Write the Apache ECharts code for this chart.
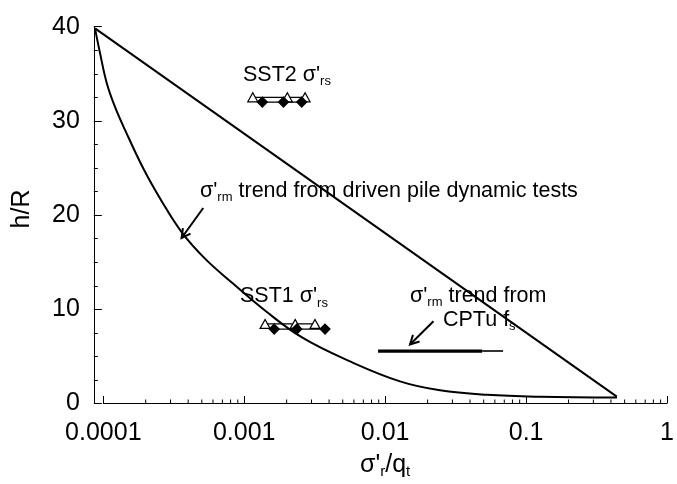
<!DOCTYPE html>
<html><head><meta charset="utf-8">
<script src="https://cdn.jsdelivr.net/npm/echarts@6/dist/echarts.min.js"></script>
<style>html,body{margin:0;padding:0;background:#fff}#c{width:677px;height:484px}</style>
</head><body><div id="c"></div>
<script>
// ---- data ----
const xTickLabels = ['0.0001', '0.001', '0.01', '0.1', '1'];
const yTickLabels = ['0', '10', '20', '30', '40'];

// sigma'_rm trend from driven pile dynamic tests (curve)
const drivenX = [8.74e-5, 9.48e-5, 1.057e-4, 1.209e-4, 1.422e-4, 1.935e-4, 2.592e-4, 3.585e-4, 5.206e-4,
                 8.201e-4, 1.378e-3, 2.513e-3, 5.473e-3, 1.232e-2, 2.357e-2, 5.052e-2, 0.1194, 0.4164];
const drivenH = [39.82, 37.20, 34.03, 31.48, 29.05, 24.81, 21.42, 18.14, 15.38,
                 12.73, 9.87, 7.01, 4.47, 2.35, 1.40, 0.92, 0.71, 0.625];

// upper straight bound
const upperX = [8.74e-5, 0.415];
const upperH = [39.82, 0.73];

// sigma'_rm trend from CPTu f_s
const cptuX = [8.63e-3, 0.0467];
const cptuH = [5.56, 5.56];
const cptuTailX = [0.0467, 0.0656];
const cptuTailH = [5.56, 5.56];

// SST2 and SST1 sigma'_rs
const sst2TriX = [1.13e-3, 1.98e-3, 2.64e-3];
const sst2TriH = [32.5, 32.5, 32.5];
const sst2DiaX = [1.32e-3, 1.86e-3, 2.50e-3];
const sst2DiaH = [32.0, 32.0, 32.0];
const sst1TriX = [1.38e-3, 2.25e-3, 3.10e-3];
const sst1TriH = [8.45, 8.45, 8.45];
const sst1DiaX = [1.60e-3, 2.31e-3, 3.65e-3];
const sst1DiaH = [7.9, 7.9, 7.9];

// annotation arrows (tail -> tip), data coordinates
const arrowTailX = [5.06e-4, 0.0212];
const arrowTailH = [20.75, 8.74];
const arrowTipX = [3.56e-4, 0.01449];
const arrowTipH = [17.57, 6.27];

// ---- layout ----
const FONT = 'Liberation Sans, Arial, sans-serif';
const black = '#000';
const W = 677;
const axisLeft = 103.3, axisRight = 671, plotTop = 26.7, plotBottom = 403.5;
const yAxisLineX = 93.8;
const decadePx = (axisRight - axisLeft) / 4;
// the data grid is widened to the y-axis line so the curves can start left of 1e-4 as in the reference
const dataAxisMin = Math.pow(10, -4 - (axisLeft - yAxisLineX) / decadePx);

const chart = echarts.init(document.getElementById('c'), null, {renderer: 'canvas'});
const pairs = (xs, ys) => xs.map((x, i) => [x, ys[i]]);

function markerSeries(xs, ys, symbol, size, fill) {
  return {
    type: 'line', xAxisIndex: 0, yAxisIndex: 0, data: pairs(xs, ys), symbol: symbol, symbolSize: size,
    showAllSymbol: true,
    itemStyle: {color: fill, borderColor: black, borderWidth: 1.2},
    lineStyle: {color: black, width: 1.3}, z: 3
  };
}

const gridBox = (left) => ({left: left, right: W - axisRight, top: plotTop, bottom: 484 - plotBottom, containLabel: false});

const option = {
  animation: false,
  backgroundColor: '#fff',
  grid: [gridBox(yAxisLineX), gridBox(axisLeft)],
  xAxis: [
    {type: 'log', logBase: 10, gridIndex: 0, min: dataAxisMin, max: 1, show: false},
    {
      type: 'log', logBase: 10, gridIndex: 1, min: 1e-4, max: 1,
      axisLine: {onZero: false, lineStyle: {color: black, width: 1}},
      axisTick: {inside: true, length: 7, lineStyle: {color: black, width: 1}},
      axisLabel: {color: black, fontSize: 25, fontFamily: FONT, margin: 18,
        formatter: (v, i) => xTickLabels[i]},
      splitLine: {show: false},
      name: "{a|σ'}{s|r}{a|/q}{s|t}",
      nameLocation: 'middle', nameGap: 48,
      nameTextStyle: {color: black, fontFamily: FONT,
        rich: {a: {fontSize: 25, lineHeight: 28, fontFamily: FONT, color: black},
               s: {fontSize: 15, lineHeight: 16, verticalAlign: 'bottom', fontFamily: FONT, color: black}}}
    }
  ],
  yAxis: [
    {
      type: 'value', gridIndex: 0, min: 0, max: 40, interval: 10,
      axisLine: {show: true, onZero: false, lineStyle: {color: black, width: 1}},
      axisTick: {show: true, inside: true, length: 8, lineStyle: {color: black, width: 1}},
      minorTick: {show: true, splitNumber: 4, length: 4, lineStyle: {color: black, width: 1}},
      axisLabel: {color: black, fontSize: 25, fontFamily: FONT, margin: 14, padding: [0, 0, 4, 0],
        formatter: (v, i) => yTickLabels[i]},
      splitLine: {show: false}
    },
    {type: 'value', gridIndex: 1, min: 0, max: 40, show: false}
  ],
  series: [
    {type: 'line', xAxisIndex: 0, yAxisIndex: 0, data: pairs(drivenX, drivenH), smooth: 0.4,
     symbol: 'none', lineStyle: {color: black, width: 2}},
    {type: 'line', xAxisIndex: 0, yAxisIndex: 0, data: pairs(upperX, upperH), symbol: 'none',
     lineStyle: {color: black, width: 2}},
    {type: 'line', xAxisIndex: 0, yAxisIndex: 0, data: pairs(cptuX, cptuH), symbol: 'none',
     lineStyle: {color: black, width: 3.3}},
    {type: 'line', xAxisIndex: 0, yAxisIndex: 0, data: pairs(cptuTailX, cptuTailH), symbol: 'none',
     lineStyle: {color: '#333', width: 2}},
    markerSeries(sst2TriX, sst2TriH, 'triangle', [10, 9], '#fff'),
    markerSeries(sst2DiaX, sst2DiaH, 'diamond', [10, 10], black),
    markerSeries(sst1TriX, sst1TriH, 'triangle', [10, 9], '#fff'),
    markerSeries(sst1DiaX, sst1DiaH, 'diamond', [10, 10], black)
  ]
};
chart.setOption(option);

// ---- annotations, minor ticks, arrows ----
const px = (x, y) => chart.convertToPixel({xAxisIndex: 0, yAxisIndex: 0}, [x, y]);
const graphics = [];
const axisY = chart.convertToPixel({yAxisIndex: 1}, 0);
for (let n = -4; n <= -1; n++) {
  for (let k = 2; k <= 9; k++) {
    const xp = chart.convertToPixel({xAxisIndex: 1}, k * Math.pow(10, n));
    graphics.push({type: 'line', shape: {x1: xp, y1: axisY, x2: xp, y2: axisY - 3.5},
      style: {stroke: black, lineWidth: 1}, silent: true});
  }
}
for (let i = 0; i < arrowTipX.length; i++) {
  const t = px(arrowTailX[i], arrowTailH[i]);
  const p = px(arrowTipX[i], arrowTipH[i]);
  let dx = t[0] - p[0], dy = t[1] - p[1];
  const L = Math.hypot(dx, dy); dx /= L; dy /= L;
  const arm = 10, ang = 28 * Math.PI / 180;
  const rot = (a) => [p[0] + arm * (dx * Math.cos(a) - dy * Math.sin(a)), p[1] + arm * (dx * Math.sin(a) + dy * Math.cos(a))];
  graphics.push({type: 'line', shape: {x1: t[0], y1: t[1], x2: p[0], y2: p[1]},
    style: {stroke: black, lineWidth: 2}, silent: true, z: 10});
  graphics.push({type: 'polyline', shape: {points: [rot(ang), p, rot(-ang)]},
    style: {stroke: black, lineWidth: 2, fill: null}, silent: true, z: 10});
}
const richAnn = {
  a: {fontSize: 21.5, lineHeight: 26, fontFamily: FONT, fill: black},
  s: {fontSize: 13, lineHeight: 9, verticalAlign: 'bottom', fontFamily: FONT, fill: black}
};
function ann(x, y, text) {
  graphics.push({type: 'text', x: x, y: y, silent: true, z: 10,
    style: {text: text, rich: richAnn, fontFamily: FONT, fontSize: 21.5, fill: black,
      align: 'left', verticalAlign: 'middle'}});
}
ann(243, 75, "{a|SST2 σ'}{s|rs}");
ann(240, 296.5, "{a|SST1 σ'}{s|rs}");
ann(200, 191, "{a|σ'}{s|rm}{a| trend from driven pile dynamic tests}");
ann(410, 296, "{a|σ'}{s|rm}{a| trend from}");
ann(443, 320, "{a|CPTu f}{s|s}");
graphics.push({type: 'text', x: 22.5, y: 209, rotation: Math.PI / 2, silent: true,
  style: {text: 'h/R', fontFamily: FONT, fontSize: 25, fill: black, align: 'center', verticalAlign: 'middle'}});
chart.setOption({graphic: graphics});
</script>
</body></html>
